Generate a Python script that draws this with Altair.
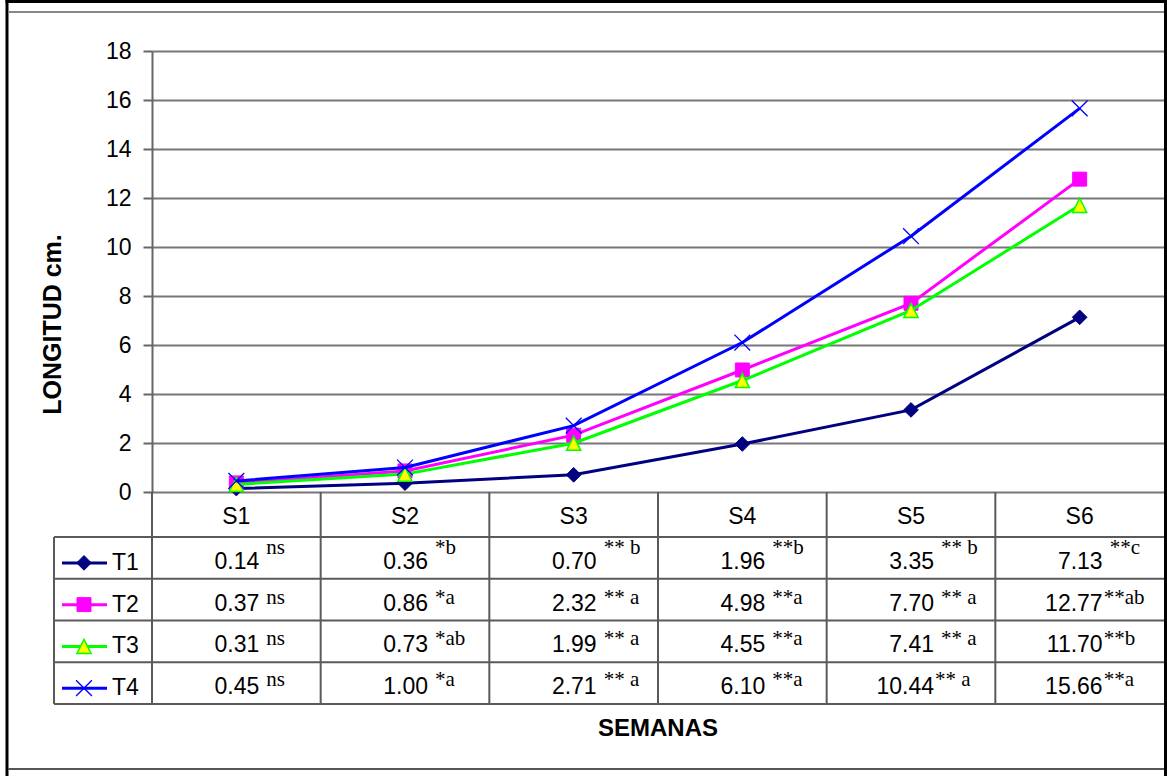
import altair as alt
import pandas as pd

# ---- data -----------------------------------------------------------------
weeks = ["S1", "S2", "S3", "S4", "S5", "S6"]
series = ["T1", "T2", "T3", "T4"]

t1 = [0.14, 0.36, 0.70, 1.96, 3.35, 7.13]
t2 = [0.37, 0.86, 2.32, 4.98, 7.70, 12.77]
t3 = [0.31, 0.73, 1.99, 4.55, 7.41, 11.70]
t4 = [0.45, 1.00, 2.71, 6.10, 10.44, 15.66]

# significance tags; a leading space means the tag sits apart from the number
sig_t1 = [" ns", " *b", " ** b", " **b", " ** b", " **c"]
sig_t2 = [" ns", " *a", " ** a", " **a", " ** a", "**ab"]
sig_t3 = [" ns", " *ab", " ** a", " **a", " ** a", "**b"]
sig_t4 = [" ns", " *a", " ** a", " **a", "** a", "**a"]

y_ticks = [0, 2, 4, 6, 8, 10, 12, 14, 16, 18]

values = {"T1": t1, "T2": t2, "T3": t3, "T4": t4}
sigs = {"T1": sig_t1, "T2": sig_t2, "T3": sig_t3, "T4": sig_t4}

# ---- layout & style ---------------------------------------------------------
W, H = 1012, 441          # plot area
HEADER_H = 45             # header row of the data table
ROW_H = 41.75             # body rows of the data table
ROW_TOP = H + HEADER_H
LEG_X = -98               # left edge of the legend column
SANS = "Liberation Sans"
SERIF = "Liberation Serif"
GRID = "#777777"
TABLE = "#5a5a5a"
NB = "\u00a0"

line_color = {"T1": "#000080", "T2": "#FF00FF", "T3": "#00FF00", "T4": "#0000FF"}
marker = {
    "T1": dict(shape="diamond", filled=True, fill="#000080", stroke="#000080", strokeWidth=1, size=215),
    "T2": dict(shape="square", filled=True, fill="#FF00FF", stroke="#FF00FF", strokeWidth=1, size=195),
    "T3": dict(shape="M0,-1L1,1L-1,1Z", filled=True, fill="#FFFF00", stroke="#00FF00", strokeWidth=1.5, size=200),
    "T4": dict(shape="M-1,-1L1,1M-1,1L1,-1", filled=False, stroke="#0000FF", strokeWidth=1.3, size=250),
}
sup_raise = {"T1": 15, "T2": 7, "T3": 7, "T4": 8}

x_scale = alt.Scale(type="band", domain=weeks, paddingInner=0, paddingOuter=0)
x_mid = alt.X("S:N", sort=weeks, scale=x_scale, axis=None, bandPosition=0.5)
x_edge = alt.X("S:N", sort=weeks, scale=x_scale, axis=None, bandPosition=0)

y_axis = alt.Axis(
    values=y_ticks, grid=True, gridColor=GRID, gridWidth=2,
    domainColor="#666666", domainWidth=2, tickColor="#666666", tickWidth=2, tickSize=9,
    labelFont=SANS, labelFontSize=23, labelColor="black", labelPadding=12,
    title="LONGITUD cm.", titleFont=SANS, titleFontSize=25, titleFontWeight="bold",
    titleColor="black", titleAngle=270, titleX=-100, titleY=273,
    titleAlign="center", titleBaseline="middle",
)
y_val = alt.Y("v:Q", scale=alt.Scale(domain=[0, 18]), axis=y_axis)

layers = []
one_row = pd.DataFrame({"k": [0]})

# ---- frame around the figure ----------------------------------------------
layers.append(alt.Chart(one_row).mark_rule(color="black", strokeWidth=3).encode(
    x=alt.value(-145), y=alt.value(-51), y2=alt.value(725)))
layers.append(alt.Chart(one_row).mark_rule(color="black", strokeWidth=3).encode(
    x=alt.value(W + 1.5), y=alt.value(-51), y2=alt.value(725)))
layers.append(alt.Chart(one_row).mark_rule(color="black", strokeWidth=3).encode(
    x=alt.value(-146.5), x2=alt.value(W + 3), y=alt.value(-49.5)))
layers.append(alt.Chart(one_row).mark_rule(color="#888888", strokeWidth=2).encode(
    x=alt.value(-144), x2=alt.value(W), y=alt.value(-39)))
layers.append(alt.Chart(one_row).mark_rule(color="#555555", strokeWidth=2).encode(
    x=alt.value(-144), x2=alt.value(W), y=alt.value(718)))

# ---- data table grid ----------------------------------------------------------
row_lines = pd.DataFrame({"py": [ROW_TOP + i * ROW_H for i in range(len(series) + 1)]})
layers.append(alt.Chart(row_lines).mark_rule(color=TABLE, strokeWidth=2).encode(
    x=alt.value(LEG_X), x2=alt.value(W), y=alt.Y("py:Q", scale=None)))
layers.append(alt.Chart(pd.DataFrame({"S": weeks})).mark_rule(color=TABLE, strokeWidth=2).encode(
    x=x_edge, y=alt.value(H), y2=alt.value(ROW_TOP + len(series) * ROW_H)))
layers.append(alt.Chart(one_row).mark_rule(color=TABLE, strokeWidth=2).encode(
    x=alt.value(LEG_X), y=alt.value(ROW_TOP), y2=alt.value(ROW_TOP + len(series) * ROW_H)))

# ---- series lines with markers -------------------------------------------------
for s in series:
    df = pd.DataFrame({"S": weeks, "v": values[s]})
    layers.append(alt.Chart(df).mark_line(color=line_color[s], strokeWidth=3).encode(x=x_mid, y=y_val))
    layers.append(alt.Chart(df).mark_point(opacity=1, **marker[s]).encode(x=x_mid, y=y_val))

# ---- table contents -----------------------------------------------------------------
layers.append(alt.Chart(pd.DataFrame({"S": weeks})).mark_text(
    font=SANS, fontSize=23, color="black", baseline="middle").encode(
    x=x_mid, y=alt.value(H + 25), text="S:N"))

cells = []
for i, s in enumerate(series):
    center = ROW_TOP + (i + 0.5) * ROW_H
    for j, w in enumerate(weeks):
        tag = sigs[s][j]
        cells.append({"S": w, "T": s, "v": values[s][j],
                      "sig": tag.strip().replace(" ", NB),
                      "apart": tag.startswith(" "),
                      "py_num": center + 11, "py_sup": center + 11 - sup_raise[s]})
cells = pd.DataFrame(cells)

layers.append(alt.Chart(cells).mark_text(
    font=SANS, fontSize=23, color="black", align="right", baseline="alphabetic", dx=23).encode(
    x=x_mid, y=alt.Y("py_num:Q", scale=None), text=alt.Text("v:Q", format=".2f")))
for apart, dx in [(True, 30), (False, 24)]:
    layers.append(alt.Chart(cells[cells["apart"] == apart]).mark_text(
        font=SERIF, fontSize=21, color="black", align="left", baseline="alphabetic", dx=dx).encode(
        x=x_mid, y=alt.Y("py_sup:Q", scale=None), text="sig:N"))

# ---- legend column of the table ---------------------------------------------------
legend = pd.DataFrame({"T": series, "py": [ROW_TOP + (i + 0.5) * ROW_H + 5 for i in range(len(series))]})
for s in series:
    one = legend[legend["T"] == s]
    layers.append(alt.Chart(one).mark_rule(color=line_color[s], strokeWidth=3).encode(
        x=alt.value(-90), x2=alt.value(-45), y=alt.Y("py:Q", scale=None)))
    layers.append(alt.Chart(one).mark_point(opacity=1, **marker[s]).encode(
        x=alt.value(-68), y=alt.Y("py:Q", scale=None)))
layers.append(alt.Chart(legend).mark_text(
    font=SANS, fontSize=23, color="black", align="left", baseline="middle").encode(
    x=alt.value(-40), y=alt.Y("py:Q", scale=None), text="T:N"))

# ---- x title --------------------------------------------------------------------
layers.append(alt.Chart(pd.DataFrame({"t": ["SEMANAS"]})).mark_text(
    font=SANS, fontSize=24, fontWeight="bold", color="black", baseline="middle").encode(
    x=alt.value(W / 2), y=alt.value(678), text="t:N"))

chart = alt.layer(*layers).properties(
    width=W, height=H,
    autosize=alt.AutoSizeParams(type="none"),
    padding={"left": 152, "top": 51, "right": 3, "bottom": 284},
    background="white",
).configure_view(stroke=None)

chart.save("out.html", embed_options={"renderer": "svg", "actions": False})
